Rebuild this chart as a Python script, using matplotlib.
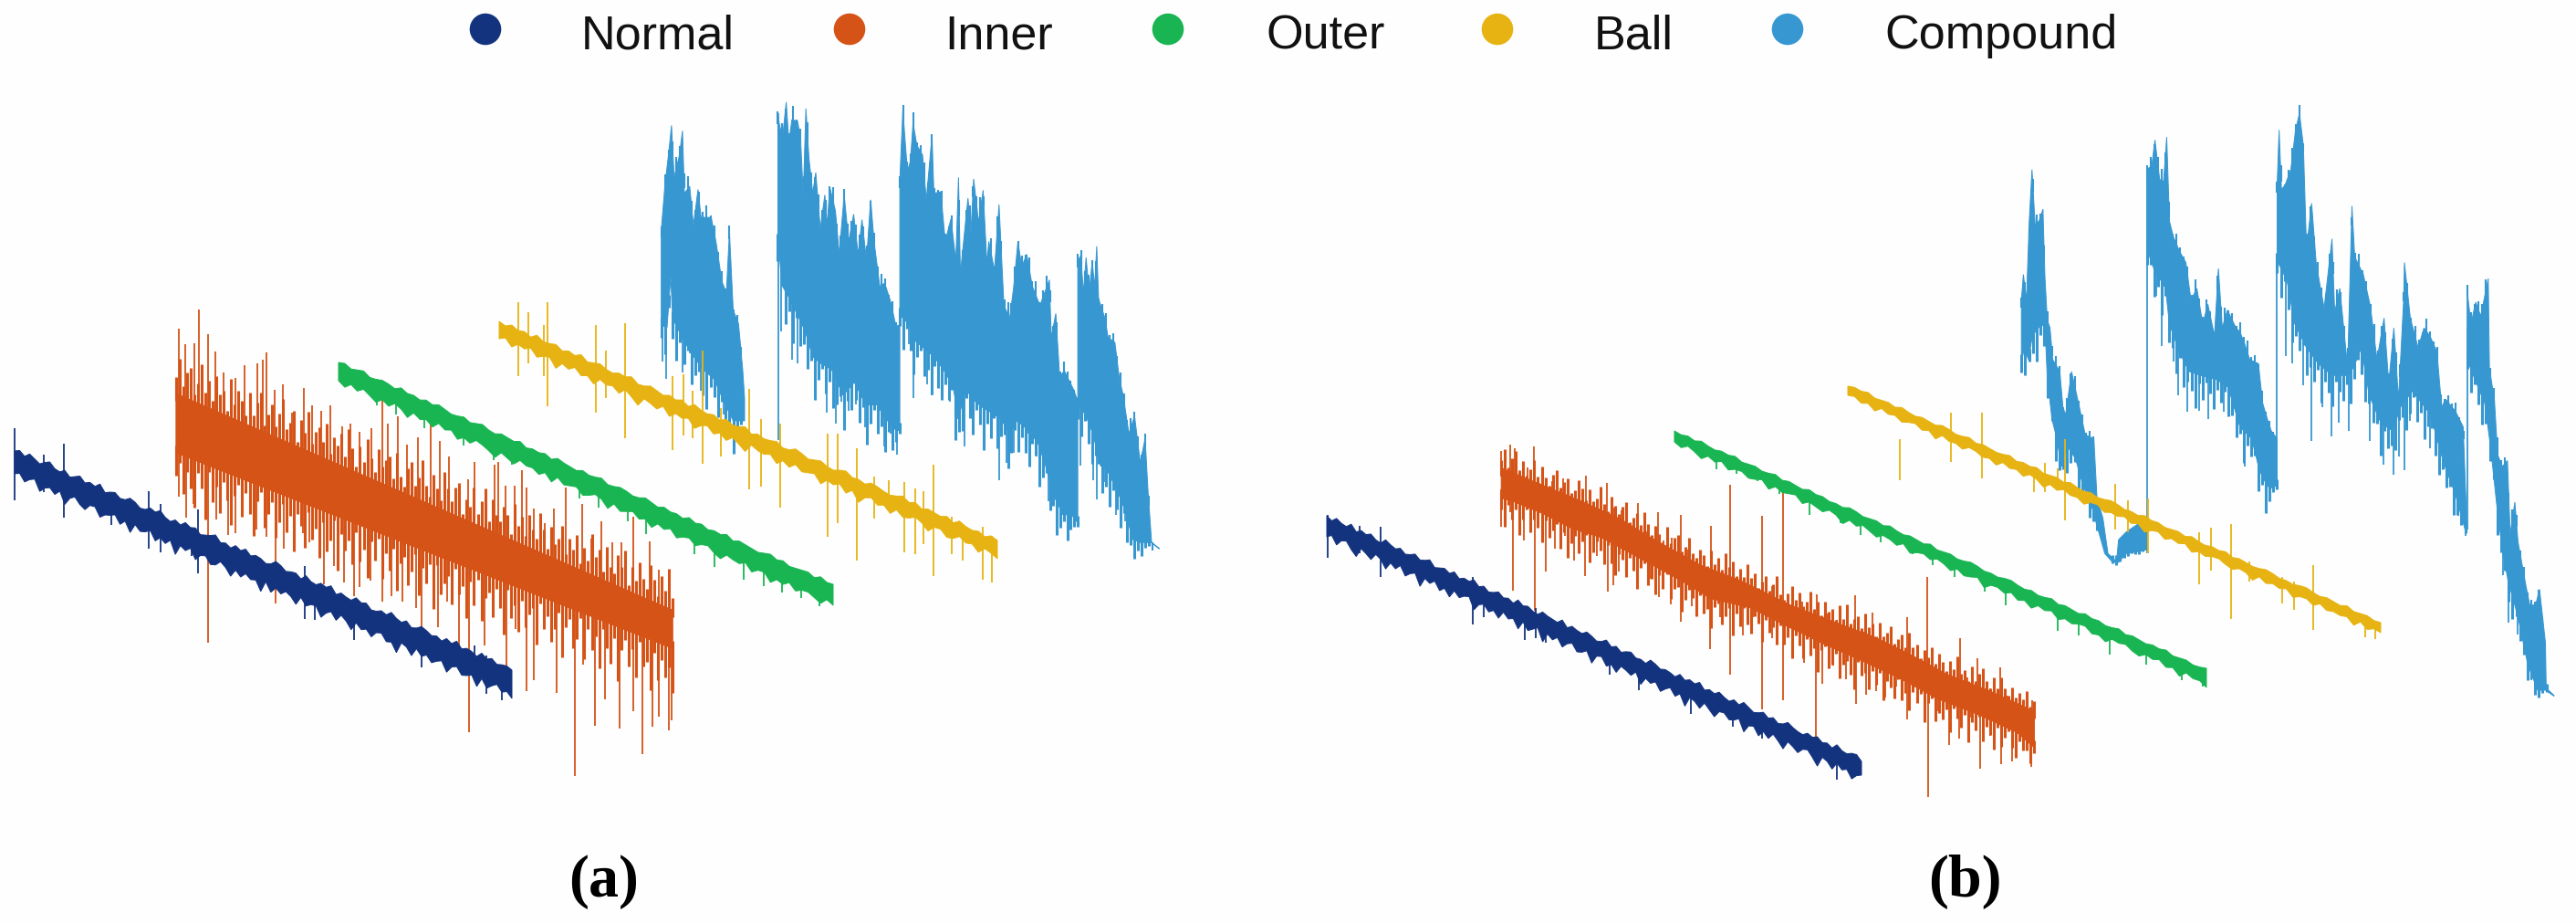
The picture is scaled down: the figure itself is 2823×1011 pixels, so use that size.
import numpy as np
import matplotlib.pyplot as plt

# crop = (left, top, x scale, y scale)
CROP_A_LOW = (0, 300, 1.96, 2.613)
CROP_A_TOP = (650, 90, 2.41, 2.85)
CROP_B_LOW = (1430, 450, 1.845, 3.0)
CROP_B_TOP = (2150, 100, 2.33, 2.306)

names = ["Normal", "Inner", "Outer", "Ball", "Compound"]
colors = ["#14337f", "#d55317", "#19b552", "#e6b312", "#3797d1"]
legend_dot_x = [532, 931, 1280, 1641, 1959]
legend_text_x = [637, 1035, 1387, 1747, 2065]

# the traces run down a slanted time axis: (x start, x end, top start, top end, low start, low end)
a_normal_edge = (16, 561, 498, 738, 515, 757)
b_normal_edge = (1454, 2040, 570, 836, 583, 848)
a_outer_edge = (371, 913, 400, 644, 414, 660)
b_outer_edge = (1835, 2418, 475, 737, 482, 746)
a_ball_edge = (547, 1093, 356, 596, 366, 606)
b_ball_edge = (2025, 2609, 425, 685, 431, 691)

# ---- panel (a) ----
a_normal_up = [3,6,2,7,4,1,5,8,3,2,6,1,4,7,2,5,3,8,1,4,6,2,3,7,5,1,2,6,4,8,3,1,5,2,7,4,6,1,3,5,8,2,4,1,6,3,7,2,5,4,1,3,8,6,2,4,5,1,7,3,2,6,4,8,1,5,3,2,7,4,6,1,2,5,3,8,4,2,6,1,3,7,5,2,4,1,6,3,8,2,5,4,1,7,3,6,2,4,5,3]
a_normal_down = [5,2,9,4,1,12,6,3,8,2,14,5,1,7,10,3,2,11,6,4,1,9,3,13,2,7,5,1,10,4,8,2,15,3,6,1,11,4,2,9,7,1,5,12,3,8,2,6,4,14,1,10,3,7,2,5,11,1,8,4,3,13,6,2,9,1,5,12,2,7,4,10,3,1,8,6,15,2,4,11,1,7,3,9,5,2,12,4,1,8,6,3,13,2,10,5,1,7,4,9]
a_normal_spikes = [(32,445,650),(137,488,700),(320,625,790),(345,660,800),(425,678,860),(240,640,720),(95,520,628),(412,730,810),(655,838,990),(676,900,992),(760,960,1050),(905,1040,1130),(1078,1130,1222),(1020,1065,1165),(1045,1095,1205)]

a_inner_span = (378, 1445)
a_inner_top = (345, 965)
a_inner_bot = (515, 1075)
a_inner_up_amp = [18,40,12,28,35,8,22,44,15,30,10,38,20,26,6,42,16,33,24,9,36,13,29,41,7,21,34,11,27,45,14,23,37,5,31,19,43,10,25,32,17,39,8,28,20,35,12,44,24,6,30,15,41,22,9,36,18,27,33,11,40,16,7,29,38,13,24,45,19,8,34,21,10,42,26,14,31,37,5,23,17,39,12,28,44,9,35,20,15,32,25,6,41,18,30,11,36,22,13,43,27,8,33,16,24,40,10,29,19,37,7,26,14,45,21,31,9,38,17,12,34,23,42,6,28,15,36,20,11,39,25,8,32,18,44,13]
a_inner_down_amp = [25,9,42,16,33,52,12,28,60,7,38,19,47,11,30,55,22,8,41,14,35,58,18,6,44,27,13,50,31,10,39,20,57,15,26,48,8,36,23,53,12,43,29,6,59,17,34,21,46,9,40,25,54,13,32,7,49,19,37,11,56,24,15,45,28,8,51,20,35,12,60,10,41,27,17,47,6,33,22,55,14,38,9,52,26,18,43,11,30,58,7,36,21,48,13,40,25,16,54,8,34,19,45,29,10,57,23,12,42,31,6,50,15,37,20,53,9,28,44,14,59,24,11,39,18,47,7,32,26,55,13,41,17,35,22,49]
a_inner_up = [(385,160),(397,205),(418,200),(428,105),(447,175),(462,225),(480,285),(505,300),(525,265),(552,258),(565,248),(573,227),(590,335),(607,318),(628,400),(653,330),(670,380),(690,395),(710,378),(735,440),(752,430),(772,455),(797,445),(822,350),(833,430),(855,410),(875,490),(897,470),(925,420),(945,480),(965,525),(1005,590),(1020,540),(1045,660),(1062,550),(1070,540),(1085,610),(1105,610),(1122,565),(1130,615),(1147,675),(1170,715),(1190,675),(1215,613),(1250,660),(1270,760),(1292,712),(1315,770),(1335,770),(1360,697),(1395,768),(1415,848),(1437,855)]
a_inner_down = [(385,640),(400,700),(415,660),(447,1058),(465,705),(490,750),(505,745),(550,735),(572,755),(592,945),(610,790),(650,745),(665,770),(695,890),(718,840),(738,885),(760,925),(772,900),(795,880),(822,940),(840,925),(865,940),(893,960),(905,1020),(940,1015),(960,940),(985,1075),(1008,1315),(1040,1065),(1088,1140),(1108,1020),(1130,1198),(1147,1165),(1196,1203),(1235,1440),(1252,1120),(1277,1295),(1300,1220),(1330,1305),(1360,1255),(1380,1378),(1402,1298),(1415,1270),(1437,1308),(1443,1280)]

a_outer_up = [2,4,1,3,5,1,2,4,3,1,5,2,3,1,4,2,5,3,1,2,4,1,3,5,2,1,4,3,2,5,1,3,2,4,1,5,3,2,1,4,2,3,5,1,2,4,3,1,2,5,3,1,4,2,3,1,5,2,4,1,3,2,5,1,4,3,2,1,3,5,2,4,1,2,3,4,1,5,2,3]
a_outer_down = [4,8,2,6,1,5,9,3,7,1,4,10,2,6,3,8,1,5,2,9,4,7,1,3,6,10,2,5,8,1,4,3,7,2,9,1,6,4,2,8,5,1,3,10,2,7,4,1,6,3,9,2,5,1,8,4,2,7,3,1,6,9,2,4,5,1,8,3,2,10,4,6,1,7,3,2,5,8,1,4]
a_outer_span = (727, 1791)
a_outer_low = (310, 956)
a_outer_down_tips = [(810,378),(850,405),(912,445),(995,495),(1060,535),(1100,550),(1245,645),(1286,672),(1348,712),(1388,748),(1492,806),(1535,841),(1597,879),(1640,895),(1680,915),(1720,930),(1760,955)]

a_ball_up = [3,1,5,2,4,1,6,2,3,5,1,4,2,6,1,3,5,2,1,4,3,6,1,2,5,3,1,4,2,5,1,6,3,2,4,1,5,2,3,6,1,4,2,3,5,1,2,6,4,1,3,5,2,1,4,6,2,3,1,5,4,2,1,3,6,2,5,1,4,3,2,5,1,6,3,2,4,1,5,3]
a_ball_down = [6,2,9,3,5,1,8,4,2,11,3,6,1,7,4,10,2,5,3,8,1,6,12,2,4,7,1,9,3,5,2,10,4,1,7,3,8,2,6,11,1,4,5,2,9,3,7,1,6,4,2,10,3,5,1,8,2,12,4,1,6,3,9,2,7,5,1,4,10,3,2,8,6,1,5,3,9,2,4,7]
a_ball_spikes = [(-198,690,920),(-120,690,1015),(-170,720,880),(-130,760,920),(7,760,1035),(84,755,1113),(33,840,990),(210,920,1150),(238,915,1105),(262,965,1115),(289,840,1195),(338,1020,1170),(412,960,1275),(443,1055,1265),(493,1070,1330),(619,1100,1423),(647,1100,1380),(697,1145,1495),(742,1235,1365),(780,1245,1340),(823,1250,1470),(851,1270,1475),(873,1280,1445),(900,1197,1545),(948,1360,1475),(975,1390,1495),(1028,1390,1555),(1052,1420,1565)]

a_comp_top = [
    [(180,465),(190,320),(200,220),(207,138),(214,300),(228,230),(236,155),(241,350),(255,328),(265,450),(277,338),(285,425),(312,425),(325,505),(340,625),(352,660),(360,470),(370,715),(384,757),(395,900),(400,990)],
    [(488,110),(500,180),(510,65),(517,190),(525,120),(540,125),(548,180),(555,360),(562,85),(570,240),(580,350),(588,285),(600,460),(612,355),(618,450),(625,330),(640,405),(650,540),(663,355),(675,500),(688,415),(700,540),(710,432),(722,560),(733,370),(742,500),(757,640),(770,630),(785,685),(800,765),(810,760)],
    [(810,310),(818,90),(830,280),(838,250),(845,130),(855,200),(870,230),(880,370),(895,170),(900,350),(918,345),(930,500),(945,430),(958,560),(965,300),(970,600),(990,365),(998,470),(1005,305),(1018,440),(1030,340),(1040,570),(1045,500),(1060,590),(1072,385),(1085,700),(1100,740),(1110,650),(1122,500),(1132,580),(1145,540),(1160,640),(1180,700),(1205,620),(1210,800),(1222,725),(1232,920),(1245,905),(1270,965),(1280,1000)],
    [(1280,560),(1288,545),(1295,660),(1302,550),(1310,660),(1318,565),(1325,640),(1330,515),(1335,680),(1352,740),(1360,800),(1378,815),(1390,930),(1400,980),(1415,1100),(1430,1045),(1445,1190),(1458,1115),(1465,1270),(1475,1440),(1495,1458)],
]
a_comp_bot = [
    [(180,760),(195,770),(205,610),(210,740),(235,800),(260,850),(290,900),(320,930),(345,1000),(370,1060),(400,1060)],
    [(488,500),(500,640),(515,670),(540,730),(560,780),(580,860),(600,880),(630,900),(660,980),(690,940),(720,1010),(750,1010),(770,1050),(800,1090),(810,1090)],
    [(810,730),(835,760),(850,810),(880,840),(900,860),(925,900),(950,950),(965,1050),(985,960),(1000,990),(1030,1020),(1060,1040),(1075,1050),(1100,1100),(1120,1060),(1150,1090),(1175,1130),(1195,1200),(1215,1290),(1240,1350),(1270,1360),(1280,1380)],
    [(1280,1010),(1300,1040),(1320,1100),(1340,1200),(1360,1220),(1385,1280),(1405,1340),(1425,1430),(1445,1440),(1475,1440),(1495,1460)],
]
a_comp_low_amp = [
    [14,30,6,22,38,10,26,4,34,18,8,28,40,12,20,32,5,24,16,36,9,4,0],
    [22,8,36,15,42,6,28,18,33,10,45,20,5,30,14,38,25,7,40,12,27,17,34,9,44,21,6,31,16,37,11,26,13,4],
    [12,34,7,25,40,16,5,30,20,44,9,28,36,13,23,6,42,18,32,10,26,38,8,21,46,15,29,4,35,19,11,41,24,6,33,14,27,39,9,17,43,22,5,31,12,36,20,8,28,15,10,4],
    [16,30,8,24,36,12,5,28,18,34,9,22,32,6,26,14,20,10,15,6,4,0,0,0],
]
a_comp_up_amp = [
    [4,10,2,7,12,3,8,14,5,1,9,6,13,2,8,4,11,3,7,1,5,2,0],
    [6,13,3,9,15,1,8,4,12,7,2,14,5,10,3,16,6,1,9,13,4,7,11,2,15,5,8,3,12,6,1,10,4,0],
    [5,12,2,9,16,4,7,14,1,11,6,3,13,8,2,15,5,10,1,7,12,4,9,16,3,6,13,2,11,5,8,14,1,7,4,12,3,10,6,15,2,8,13,5,1,9,4,11,6,3,2,0],
    [7,14,3,10,5,12,2,8,13,4,9,1,11,6,3,10,5,8,2,6,3,1,0,0],
]
a_comp_spikes = [(183,700,875),(192,700,930),(237,700,910),(284,800,965),(320,800,965),(255,700,850),(272,700,905),(300,800,905),(345,900,1040),(362,900,1075),(490,100,1120),(497,500,780),(525,600,870),(540,600,880),(568,700,855),(588,700,895),(605,800,855),(618,800,1035),(640,800,1070),(655,800,1000),(675,800,1030),(695,800,1010),(718,800,1080),(742,900,1025),(768,900,1140),(785,900,1100),(803,900,1165),(835,700,820),(845,700,990),(882,750,945),(895,750,980),(942,800,1000),(962,800,1055),(982,800,1140),(1025,900,1020),(1050,900,1045),(1062,900,1045),(1072,900,1245),(1092,900,1190),(1112,900,1160),(1150,1000,1100),(1172,1000,1170),(1188,1000,1215),(1203,1000,1310),(1225,1100,1320),(1240,1100,1355),(1272,1100,1390),(1288,900,1200),(1320,900,1245),(1331,900,1305),(1352,1000,1250),(1380,1100,1355),(1405,1200,1375),(1425,1250,1425),(1430,1250,1455),(1452,1300,1450)]

# ---- panel (b) ----
b_normal_up = [4,1,6,3,2,7,1,5,3,6,2,1,7,4,2,5,1,3,6,2,4,7,1,3,5,2,6,1,4,3,7,2,5,1,3,6,2,4,1,7,3,5,2,1,6,4,3,2,7,1,5,3,2,6,4,1,3,7,2,5,1,4,6,2,3,1,7,5,2,4,3,1,6,2,5,3,7,1,4,2,6,3,1,5,2,7,4,1,3,6,2,5,1,3,7,4,2,1,5,3,6,2,4,1,7,3,2,5,6,1]
b_normal_down = [6,2,10,3,1,8,13,2,5,9,1,4,12,3,7,1,10,5,2,14,3,6,1,9,4,11,2,7,3,1,13,5,2,8,4,10,1,6,3,12,2,9,5,1,14,3,7,2,10,4,1,8,6,2,13,3,1,9,5,11,2,4,7,1,12,3,6,2,10,5,1,8,3,14,2,4,9,1,6,11,3,2,7,5,1,13,4,2,10,3,8,1,6,12,2,5,9,3,1,7,14,2,4,10,1,6,3,11,5,2]
b_normal_spikes = [(47,345,485),(153,385,550),(110,380,470),(467,650,750),(340,550,705),(362,600,680),(445,660,755),(487,690,765),(617,780,870),(675,830,920),(780,900,998),(865,980,1040),(925,1020,1080),(1075,1120,1215)]

b_inner_top = [(397,190),(470,240),(560,300),(640,360),(700,420),(800,510),(880,560),(980,640),(1060,690),(1150,745),(1220,800),(1300,870),(1380,920),(1475,990)]
b_inner_bot = [(397,290),(420,300),(480,340),(540,390),(600,420),(680,490),(760,560),(820,620),(900,650),(980,715),(1050,770),(1120,820),(1200,880),(1280,950),(1360,1000),(1440,1060),(1475,1110)]
b_inner_up_amp = [8,22,4,15,25,6,18,3,12,24,7,20,10,2,16,23,5,13,19,4,9,21,14,3,17,6,11,25,8,2,20,12,5,15,22,3,10,18,7,24,13,4,16,9,2,21,6,14,19,3,11,23,8,5,17,12,2,20,7,15,4,24,10,18,3,13,6,22,9,16,2,11,19,5,14,25,7,3,12,21,8,17,4,10,23,6,15,2,18,9,13,3,20,7,24,5,11,16,4,22,8,14,2,19,6,12,21,3,10,17,5,23,9,15,2,13,7,20,4,18,11,3,16,8,24,6,12,2,19,5,14,22,9,3,17,7,21,10,4,15,6,13,8,18,3,11]
b_inner_down_amp = [12,30,5,20,8,34,15,3,26,10,18,32,6,23,13,4,29,9,35,16,7,25,11,2,31,19,6,14,27,4,22,33,8,12,28,5,17,35,10,3,24,15,30,7,20,2,26,13,9,34,18,5,11,29,4,21,14,32,8,3,25,16,6,35,10,23,2,19,28,7,13,31,5,17,9,26,3,22,12,33,6,15,27,4,20,10,34,8,2,24,18,5,30,13,7,21,35,3,16,11,28,6,19,4,32,9,14,25,2,23,12,29,7,17,5,34,10,3,26,15,20,8,31,4,13,22,6,35,11,18,2,27,9,16,30,5,24,12,3,19,28,7,14,10,21,6]
b_inner_up = [(397,135),(405,190),(415,115),(425,125),(435,200),(450,190),(463,120),(475,240),(500,235),(522,225),(540,280),(555,300),(568,215),(580,320),(595,335),(610,240),(625,320),(640,330),(655,390),(673,305),(690,400),(714,335),(725,430),(742,420),(761,345),(775,460),(800,490),(821,380),(835,490),(860,245),(880,550),(895,560),(924,347),(945,580),(967,270),(985,640),(1005,630),(1035,605),(1055,670),(1075,690),(1090,710),(1113,610),(1130,730),(1148,665),(1165,760),(1185,790),(1200,800),(1218,680),(1240,815),(1259,548),(1280,860),(1300,880),(1325,750),(1340,880),(1360,815),(1385,915),(1405,845),(1420,940),(1440,985),(1470,955)]
b_inner_down = [(397,385),(415,335),(420,595),(442,430),(465,660),(488,530),(505,455),(525,415),(545,495),(567,545),(590,480),(612,597),(623,575),(635,530),(673,570),(698,555),(715,615),(740,640),(761,695),(782,645),(800,600),(819,785),(840,680),(860,870),(885,740),(905,680),(924,985),(945,750),(967,955),(985,770),(1010,830),(1033,1090),(1047,900),(1068,840),(1094,885),(1115,965),(1135,935),(1155,925),(1173,945),(1195,910),(1217,1018),(1240,960),(1261,1272),(1280,990),(1303,1100),(1323,1080),(1345,1010),(1365,1180),(1385,1070),(1407,1165),(1430,1155),(1447,1085),(1468,1172)]

b_outer_up = [2,1,3,1,4,2,1,3,2,4,1,2,3,1,2,4,1,3,2,1,4,2,3,1,2,1,4,3,1,2,3,1,4,2,1,3,2,1,4,1,2,3,1,2,4,3,1,2,1,3,4,2,1,3,1,2,4,1,3,2,1,4,2,3,1,2,4,1,3,2,1,3,2,4,1,2,3,1,2,4]
b_outer_down = [3,6,1,4,8,2,5,1,7,3,2,6,4,1,8,2,5,3,1,7,2,4,6,1,3,9,2,5,1,4,7,2,3,6,1,8,4,2,5,1,3,7,2,6,4,1,9,3,2,5,1,6,3,8,2,4,1,7,3,5,2,1,6,4,8,2,3,1,5,7,2,4,1,6,3,9,2,5,4,8]
b_outer_span = (748, 1823)
b_outer_low = (105, 906)
b_outer_down_tips = [(832,195),(872,210),(915,235),(935,255),(960,275),(1020,345),(1083,372),(1123,412),(1165,435),(1228,475),(1270,510),(1313,550),(1375,598),(1417,642),(1522,725),(1565,742),(1627,804),(1701,837),(1773,888),(1815,909)]

b_ball_up = [1,3,2,4,1,2,3,1,4,2,1,3,2,1,4,3,1,2,4,1,3,2,1,2,4,1,3,2,4,1,2,3,1,4,2,1,3,1,2,4,3,1,2,1,4,2,3,1,2,3,1,4,2,1,3,2,4,1,3,2,1,2,4,3,1,2,1,3,4,2,1,3,2,1,4,1,2,3,1,2]
b_ball_down = [3,1,5,2,7,1,4,2,6,3,1,5,2,8,1,4,3,6,1,2,5,3,7,1,4,2,6,1,3,8,2,5,1,4,3,7,2,1,6,3,4,1,5,2,8,3,1,6,2,4,1,7,3,5,2,1,4,6,2,3,8,1,5,2,4,1,7,3,2,6,1,5,3,4,2,8,1,6,2,3]
b_ball_spikes = [(-158,880,985),(-28,815,938),(52,815,980),(183,960,1015),(213,940,1015),(245,955,1005),(264,880,1085),(392,995,1110),(423,1035,1115),(475,1030,1170),(606,1115,1248),(636,1105,1212),(687,1095,1335),(735,1190,1240),(818,1230,1295),(848,1240,1312),(898,1200,1362),(1030,1340,1382),(1055,1350,1385)]

b_comp_top = [
    [(152,530),(157,465),(165,530),(172,330),(179,200),(187,340),(197,330),(207,300),(212,470),(218,580),(225,600),(232,680),(250,710),(258,800),(265,820),(280,710),(300,800),(315,870),(337,880),(345,1030),(360,1080),(373,1170),(395,1190),(400,1135),(420,1115),(450,1095),(472,1110)],
    [(472,200),(485,190),(493,125),(505,225),(515,230),(523,118),(530,330),(540,370),(555,405),(572,435),(585,530),(600,500),(615,590),(628,540),(645,620),(655,450),(665,600),(678,555),(700,600),(710,610),(722,640),(735,680),(757,690),(768,790),(780,830),(790,860),(805,880)],
    [(805,240),(810,100),(816,250),(825,240),(840,200),(852,100),(862,58),(872,140),(880,400),(893,285),(905,440),(925,550),(945,375),(952,560),(965,500),(985,700),(996,292),(1003,420),(1025,465),(1043,545),(1060,680),(1078,575),(1090,740),(1103,600),(1115,780),(1128,530),(1130,435),(1145,575),(1165,650),(1180,600),(1195,620),(1213,660),(1225,800),(1235,780),(1260,810),(1280,850),(1290,1110)],
    [(1290,505),(1300,590),(1312,535),(1325,570),(1344,475),(1347,700),(1360,785),(1368,920),(1380,950),(1393,935),(1400,1120),(1412,1040),(1420,1140),(1440,1250),(1450,1300),(1465,1300),(1475,1260),(1490,1395),(1492,1510),(1512,1528)],
]
b_comp_bot = [
    [(152,685),(160,650),(170,680),(180,620),(195,600),(212,590),(218,725),(230,830),(240,870),(255,950),(270,900),(290,930),(310,1000),(330,1045),(345,1100),(365,1170),(385,1192),(400,1192),(420,1170),(450,1165),(472,1160)],
    [(472,400),(490,450),(520,500),(530,590),(555,660),(580,710),(610,720),(650,730),(680,750),(710,850),(740,880),(760,960),(780,1000),(805,1000)],
    [(805,430),(830,480),(850,590),(880,650),(910,690),(945,720),(985,720),(1000,700),(1020,650),(1040,770),(1070,840),(1100,860),(1120,800),(1150,760),(1190,810),(1205,850),(1230,940),(1260,1020),(1285,1110)],
    [(1290,680),(1310,730),(1335,790),(1350,900),(1365,1040),(1380,1160),(1395,1240),(1420,1330),(1445,1450),(1470,1515),(1490,1515),(1512,1530)],
]
b_comp_low_amp = [
    [12,28,6,20,34,9,24,15,4,30,18,8,26,12,5,22,14,6,18,9,4,0,0,0,1,3,1,2,3,1,2,3,1,0],
    [18,6,30,12,36,8,24,16,32,5,28,14,20,38,9,26,6,17,33,11,22,7,30,15,25,8,35,12,20,5,27,10,32,16,6,3],
    [14,32,6,24,38,11,19,5,30,16,26,8,40,13,22,34,7,18,28,10,36,15,5,25,31,9,20,12,37,6,23,17,29,8,14,33,21,5,27,11,35,16,7,24,30,10,18,6,26,13,9,4],
    [10,26,6,18,30,12,22,5,28,14,8,20,24,6,16,10,18,5,12,8,3,1,0,0],
]
b_comp_up_amp = [
    [3,8,2,6,10,4,7,12,3,9,5,1,8,4,10,2,6,3,7,2,0,0,0,0,0,0,0,0,0,0,0,0,0,0],
    [5,11,2,8,13,4,9,1,12,6,3,10,5,14,2,7,11,4,1,9,6,12,3,8,2,10,5,13,4,7,1,9,3,6,2,0],
    [4,10,2,7,13,5,9,1,12,6,3,14,8,2,10,5,15,3,7,11,1,6,13,4,9,2,12,5,8,1,10,3,14,6,2,9,4,11,7,1,13,5,3,10,6,2,8,4,11,3,1,0],
    [6,12,3,9,5,11,2,8,13,4,7,1,10,5,3,8,2,6,4,2,1,0,0,0],
]
b_comp_spikes = [(473,200,1170),(497,400,520),(510,450,645),(540,550,685),(553,600,770),(575,650,812),(605,650,810),(628,680,830),(668,680,812),(697,680,790),(723,750,950),(775,900,1025),(790,900,1005),(803,900,1005),(805,430,1000),(828,450,670),(843,500,690),(872,600,745),(893,600,885),(920,650,800),(944,650,875),(962,650,840),(988,650,860),(1042,700,885),(1076,800,945),(1102,800,970),(1115,800,925),(1130,750,960),(1145,750,835),(1196,800,905),(1248,950,1000),(1268,1000,1075),(1285,1050,1125),(1290,600,1110),(1330,750,845),(1367,1000,1090),(1382,1100,1225),(1396,1200,1345),(1420,1300,1375),(1455,1400,1490),(1475,1400,1518)]


def to_px(xs, ys, crop):
    x0, y0, kx, ky = crop
    return x0 + np.asarray(xs, float) / kx, y0 + np.asarray(ys, float) / ky


def spikes(ax, crop, color, triples, z, lw=1.3):
    xs, tops, bots = np.array(triples, float).T
    x, y0 = to_px(xs, tops, crop)
    _, y1 = to_px(xs, bots, crop)
    ax.vlines(x, y0, y1, color=color, lw=lw, zorder=z)


def slanted_trace(ax, edge, up, down, color, z):
    x0, x1, t0, t1, b0, b1 = edge
    tx = np.linspace(x0, x1, len(up))
    bx = np.linspace(x0, x1, len(down))
    ty = np.linspace(t0, t1, len(up)) - np.array(up)
    by = np.linspace(b0, b1, len(down)) + np.array(down)
    ax.fill(np.r_[tx, bx[::-1]], np.r_[ty, by[::-1]], color=color, lw=0.7, zorder=z)


def tips(ax, crop, color, env_x, env_y, pairs, z, inset):
    # spike base is taken from the body edge at that x
    xs, ys = np.array(pairs, float).T
    base = np.interp(xs, env_x, env_y) + inset
    spikes(ax, crop, color, list(zip(xs, ys, base)), z)


def comb(ax, crop, color, env_x, env_y, amps, sign, z, lw=2.2):
    # dense strokes along a body edge, amps in pixels
    ex, ey = to_px(env_x, env_y, crop)
    x = np.linspace(ex[0], ex[-1], len(amps))
    base = np.interp(x, ex, ey)
    a = np.array(amps, float)
    keep = a > 0
    ax.vlines(x[keep], base[keep] - sign * 8, base[keep] + sign * a[keep],
              color=color, lw=lw, zorder=z)


def body(ax, crop, color, top, bot, z):
    tx, ty = np.array(top, float).T
    bx, by = np.array(bot, float).T
    px, py = to_px(np.r_[tx, bx[::-1]], np.r_[ty, by[::-1]], crop)
    ax.fill(px, py, color=color, lw=0.7, zorder=z)


def bursts(ax, crop, color, tops, bots, up_amps, low_amps, triples, z):
    for t, b, u, a in zip(tops, bots, up_amps, low_amps):
        body(ax, crop, color, t, b, z)
        tx, ty = np.array(t, float).T
        comb(ax, crop, color, tx, ty, u, -1, z, lw=1.5)
        bx, by = np.array(b, float).T
        comb(ax, crop, color, bx, by, a, 1, z)
    spikes(ax, crop, color, triples, z)


fig = plt.figure(figsize=(28.23, 10.12), dpi=100, facecolor="#fefefe")
ax = fig.add_axes([0, 0, 1, 1])
ax.set_xlim(0, 2823)
ax.set_ylim(1012, 0)
ax.axis("off")

# compound at the back, normal in front
bursts(ax, CROP_A_TOP, colors[4], a_comp_top, a_comp_bot, a_comp_up_amp, a_comp_low_amp, a_comp_spikes, 1)
bursts(ax, CROP_B_TOP, colors[4], b_comp_top, b_comp_bot, b_comp_up_amp, b_comp_low_amp, b_comp_spikes, 1)

slanted_trace(ax, a_ball_edge, a_ball_up, a_ball_down, colors[3], 2)
spikes(ax, CROP_A_TOP, colors[3], a_ball_spikes, 2)
slanted_trace(ax, b_ball_edge, b_ball_up, b_ball_down, colors[3], 2)
spikes(ax, CROP_B_TOP, colors[3], b_ball_spikes, 2)

# inner (a): solid core, then dense strokes both ways
ix, itop, ibot = np.array(a_inner_span), np.array(a_inner_top), np.array(a_inner_bot)
body(ax, CROP_A_LOW, colors[1], list(zip(ix, itop)), list(zip(ix, ibot)), 3)
comb(ax, CROP_A_LOW, colors[1], ix, itop, a_inner_up_amp, -1, 3)
comb(ax, CROP_A_LOW, colors[1], ix, ibot, a_inner_down_amp, 1, 3)
tips(ax, CROP_A_LOW, colors[1], ix, itop, a_inner_up, 3, 30)
tips(ax, CROP_A_LOW, colors[1], ix, ibot, a_inner_down, 3, -30)

tx, ty = np.array(b_inner_top, float).T
bx, by = np.array(b_inner_bot, float).T
body(ax, CROP_B_LOW, colors[1], b_inner_top, b_inner_bot, 3)
comb(ax, CROP_B_LOW, colors[1], tx, ty, b_inner_up_amp, -1, 3)
comb(ax, CROP_B_LOW, colors[1], bx, by, b_inner_down_amp, 1, 3)
tips(ax, CROP_B_LOW, colors[1], tx, ty, b_inner_up, 3, 30)
tips(ax, CROP_B_LOW, colors[1], bx, by, b_inner_down, 3, -30)

slanted_trace(ax, a_outer_edge, a_outer_up, a_outer_down, colors[2], 4)
tips(ax, CROP_A_LOW, colors[2], a_outer_span, a_outer_low, a_outer_down_tips, 4, -10)
slanted_trace(ax, b_outer_edge, b_outer_up, b_outer_down, colors[2], 4)
tips(ax, CROP_B_LOW, colors[2], b_outer_span, b_outer_low, b_outer_down_tips, 4, -10)

slanted_trace(ax, a_normal_edge, a_normal_up, a_normal_down, colors[0], 5)
spikes(ax, CROP_A_LOW, colors[0], a_normal_spikes, 5)
slanted_trace(ax, b_normal_edge, b_normal_up, b_normal_down, colors[0], 5)
spikes(ax, CROP_B_LOW, colors[0], b_normal_spikes, 5)

# legend row
ax.scatter(legend_dot_x, [33] * 5, s=620, c=colors, linewidths=0, zorder=6)
for name, x in zip(names, legend_text_x):
    ax.text(x, 53, name, family="Liberation Sans", fontsize=37.5, color="#111111",
            ha="left", va="baseline")

ax.text(662, 982, "(a)", family="Liberation Serif", weight="bold", fontsize=47.5,
        ha="center", va="baseline")
ax.text(2153, 982, "(b)", family="Liberation Serif", weight="bold", fontsize=47.5,
        ha="center", va="baseline")

fig.savefig("out.png", dpi=100, facecolor=fig.get_facecolor())
plt.close(fig)
